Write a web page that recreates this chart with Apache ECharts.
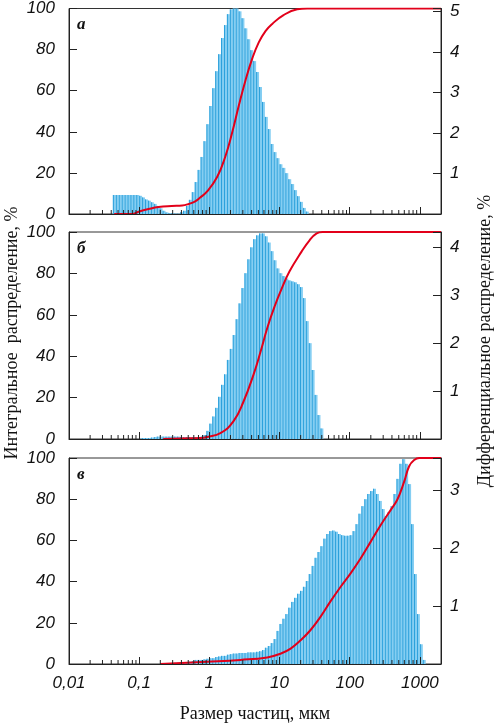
<!DOCTYPE html>
<html>
<head>
<meta charset="utf-8">
<script src="https://cdn.jsdelivr.net/npm/echarts@6/dist/echarts.min.js"></script>
<style>
html, body { margin: 0; padding: 0; background: #fff; }
#chart { width: 496px; height: 725px; }
</style>
</head>
<body>
<div id="chart"></div>
<script>
// size classes: log-spaced bins starting at 0.01 um
var binStart = 0.01;
var binsPerDecade = 24;

// differential distribution, % (right axis), from first bin index on
var firstBinA = 15;
var diffA = [0.47, 0.47, 0.47, 0.47, 0.47, 0.47, 0.47, 0.47, 0.47, 0.45, 0.41, 0.36, 0.33, 0.29, 0.25, 0.20,
	0.14, 0.08, 0.04, 0.02, 0.02, 0.01, 0.01, 0.04, 0.08, 0.20, 0.35, 0.54, 0.79, 1.09, 1.41, 1.80, 2.22,
	2.67, 3.11, 3.53, 3.95, 4.35, 4.67, 4.94, 5.06, 5.08, 5.08, 5.01, 4.84, 4.59, 4.32, 4.05, 3.78, 3.51,
	3.14, 2.77, 2.40, 2.10, 1.73, 1.53, 1.38, 1.23, 1.14, 1.01, 0.86, 0.74, 0.59, 0.44, 0.30, 0.15, 0.06];
var firstBinB = 24;
var diffB = [0.01, 0.02, 0.02, 0.02, 0.03, 0.04, 0.05, 0.05, 0.05, 0.05, 0.05, 0.05, 0.05, 0.05, 0.04, 0.04,
	0.04, 0.04, 0.04, 0.04, 0.04, 0.05, 0.08, 0.17, 0.32, 0.47, 0.65, 0.88, 1.13, 1.35, 1.65, 1.88, 2.17,
	2.50, 2.83, 3.15, 3.46, 3.75, 4.00, 4.17, 4.25, 4.29, 4.29, 4.23, 4.10, 3.92, 3.73, 3.56, 3.46, 3.40,
	3.35, 3.31, 3.29, 3.27, 3.23, 3.17, 2.94, 2.46, 2.00, 1.44, 0.92, 0.50, 0.22];
var firstBinC = 36;
var diffC = [0.02, 0.02, 0.03, 0.03, 0.03, 0.04, 0.05, 0.07, 0.07, 0.07, 0.08, 0.09, 0.10, 0.10, 0.12, 0.13,
	0.14, 0.14, 0.16, 0.17, 0.18, 0.18, 0.19, 0.19, 0.19, 0.20, 0.20, 0.20, 0.21, 0.22, 0.24, 0.28, 0.31,
	0.36, 0.43, 0.57, 0.69, 0.78, 0.86, 0.97, 1.07, 1.14, 1.21, 1.26, 1.33, 1.43, 1.55, 1.69, 1.83, 1.93,
	2.03, 2.16, 2.24, 2.29, 2.30, 2.28, 2.24, 2.22, 2.21, 2.21, 2.22, 2.29, 2.41, 2.59, 2.72, 2.84, 2.93,
	2.98, 3.02, 2.93, 2.81, 2.67, 2.55, 2.62, 2.72, 2.93, 3.19, 3.45, 3.53, 3.45, 3.10, 2.41, 1.55, 0.86,
	0.34, 0.07];

// integral distribution, % (left axis)
var sizeA = [0.044, 0.08, 0.098, 0.136, 0.189, 0.29, 0.41, 0.51, 0.63, 0.74, 0.93, 1.29, 1.69, 2.11, 2.62,
	3.27, 4.07, 5.06, 6.31, 7.87, 11.4, 17.9, 24.9, 2000];
var cumA = [0, 0, 1.1, 2.4, 3.4, 3.9, 4.1, 4.9, 6.2, 8, 11, 18, 28, 39.5, 52.5, 65, 75.5, 83.5, 89, 92.5,
	96.8, 99.6, 100, 100];
var sizeB = [0.22, 0.385, 0.743, 0.936, 1.436, 2.2, 3.06, 4.25, 5.35, 6.74, 8.5, 10.7, 13.9, 20.6, 26.8,
	33.8, 41.1, 2000];
var cumB = [0, 0.3, 0.5, 1, 2.8, 8.5, 18, 31, 42, 54, 64, 72.5, 81, 90.5, 96, 99.3, 100, 100];
var sizeC = [0.2, 0.927, 2.77, 6.67, 10.3, 14.4, 19.95, 27.7, 38.5, 53.5, 74.3, 103, 143.6, 199.5, 277, 385,
	480, 597, 703, 829, 977, 2000];
var cumC = [0, 1.1, 2, 3.2, 5, 7.5, 11.5, 16.5, 23, 30.5, 37.5, 44, 51.3, 59.4, 67.5, 74.8, 80, 88.5, 96,
	99, 100, 100];

var rightMax = [5.08, 4.32, 3.55];
var panelLetters = ['а', 'б', 'в'];

var grids = [
	{ top: 8, height: 206 },
	{ top: 232, height: 207 },
	{ top: 458, height: 206 }
];

function bins(first, values) {
	return values.map(function (v, i) {
		var k = first + i;
		return [binStart * Math.pow(10, k / binsPerDecade), binStart * Math.pow(10, (k + 1) / binsPerDecade), v];
	});
}
function pairs(xs, ys) {
	return xs.map(function (x, i) { return [x, ys[i]]; });
}

var minorTicks = [];
[0.01, 0.1, 1, 10, 100].forEach(function (d) {
	for (var m = 2; m <= 9; m++) minorTicks.push([+(d * m).toPrecision(3), 0]);
});

function renderBar(params, api) {
	var p0 = api.coord([api.value(0), api.value(2)]);
	var p1 = api.coord([api.value(1), 0]);
	return {
		type: 'group',
		children: [{
			type: 'rect',
			shape: { x: p0[0], y: p0[1], width: p1[0] - p0[0], height: p1[1] - p0[1] },
			style: { fill: '#85cef2' }
		}, {
			type: 'line',
			shape: { x1: p0[0] + 0.5, y1: p0[1], x2: p0[0] + 0.5, y2: p1[1] },
			style: { stroke: '#2ba0db', lineWidth: 1 }
		}]
	};
}
function renderTick(params, api) {
	var p = api.coord([api.value(0), 0]);
	return {
		type: 'line',
		shape: { x1: p[0], y1: p[1], x2: p[0], y2: p[1] - 4 },
		style: { stroke: '#222', lineWidth: 1 }
	};
}

var sans = 'Liberation Sans';
var serif = '"Liberation Serif", "DejaVu Serif", serif';

var diffs = [bins(firstBinA, diffA), bins(firstBinB, diffB), bins(firstBinC, diffC)];
var cums = [pairs(sizeA, cumA), pairs(sizeB, cumB), pairs(sizeC, cumC)];

var option = {
	animation: false,
	grid: [], xAxis: [], yAxis: [], series: [],
	graphic: [{
		type: 'text', x: 12, y: 333, rotation: Math.PI / 2,
		style: { text: 'Интегральное  распределение, %', font: '18px ' + serif, fill: '#111', textAlign: 'center', textVerticalAlign: 'middle' }
	}, {
		type: 'text', x: 485, y: 341, rotation: Math.PI / 2,
		style: { text: 'Дифференциальное распределение, %', font: '18px ' + serif, fill: '#111', textAlign: 'center', textVerticalAlign: 'middle' }
	}, {
		type: 'text', x: 255, y: 714,
		style: { text: 'Размер частиц, мкм', font: '18px ' + serif, fill: '#111', textAlign: 'center', textVerticalAlign: 'middle' }
	}]
};

for (var i = 0; i < 3; i++) {
	option.grid.push({
		left: 69, right: 55, top: grids[i].top, height: grids[i].height,
		show: true, borderColor: '#333', borderWidth: 1
	});
	option.xAxis.push({
		type: 'log', logBase: 10, min: 0.01, max: 2000, gridIndex: i, z: 10,
		axisLine: { onZero: false, lineStyle: { color: '#222', width: 1 } },
		axisTick: { inside: true, length: 7, lineStyle: { color: '#222' } },
		axisLabel: {
			show: i === 2, margin: 11, fontFamily: sans, fontStyle: 'italic', fontSize: 17, color: '#111',
			formatter: function (v) {
				var l = Math.log10(v);
				if (Math.abs(l - Math.round(l)) > 1e-6) return '';
				return String(v).replace('.', ',');
			}
		},
		splitLine: { show: false }
	});
	option.yAxis.push({
		type: 'value', gridIndex: i, min: 0, max: 100, interval: 20, position: 'left', z: 10,
		axisLine: { show: true, lineStyle: { color: '#222', width: 1 } },
		axisTick: { show: true, inside: true, length: 8, lineStyle: { color: '#222' } },
		axisLabel: { margin: 14, fontFamily: sans, fontStyle: 'italic', fontSize: 17, color: '#111' },
		splitLine: { show: false }
	});
	option.yAxis.push({
		type: 'value', gridIndex: i, min: 0, max: rightMax[i], interval: 1, position: 'right', z: 10,
		axisLine: { show: true, lineStyle: { color: '#222', width: 1 } },
		axisTick: { show: true, inside: true, length: 8, lineStyle: { color: '#222' } },
		axisLabel: {
			margin: 9, fontFamily: sans, fontStyle: 'italic', fontSize: 17, color: '#111',
			formatter: function (v) { return (v > 0 && Math.abs(v - Math.round(v)) < 1e-6) ? String(v) : ''; }
		},
		splitLine: { show: false }
	});
	option.series.push({
		type: 'custom', xAxisIndex: i, yAxisIndex: 2 * i + 1, z: 2,
		renderItem: renderBar, encode: { x: [0, 1], y: 2 }, data: diffs[i]
	});
	option.series.push({
		type: 'custom', xAxisIndex: i, yAxisIndex: 2 * i, z: 6,
		renderItem: renderTick, encode: { x: 0, y: 1 }, data: minorTicks
	});
	option.series.push({
		type: 'line', xAxisIndex: i, yAxisIndex: 2 * i, z: 4,
		data: cums[i], symbol: 'none', smooth: 0.45,
		lineStyle: { color: '#e2001a', width: 2 }
	});
	option.graphic.push({
		type: 'text', x: 77, y: grids[i].top + 17,
		style: { text: panelLetters[i], font: 'italic bold 17px ' + serif, fill: '#111', textAlign: 'left', textVerticalAlign: 'middle' }
	});
}

var chart = echarts.init(document.getElementById('chart'));
chart.setOption(option);
</script>
</body>
</html>
